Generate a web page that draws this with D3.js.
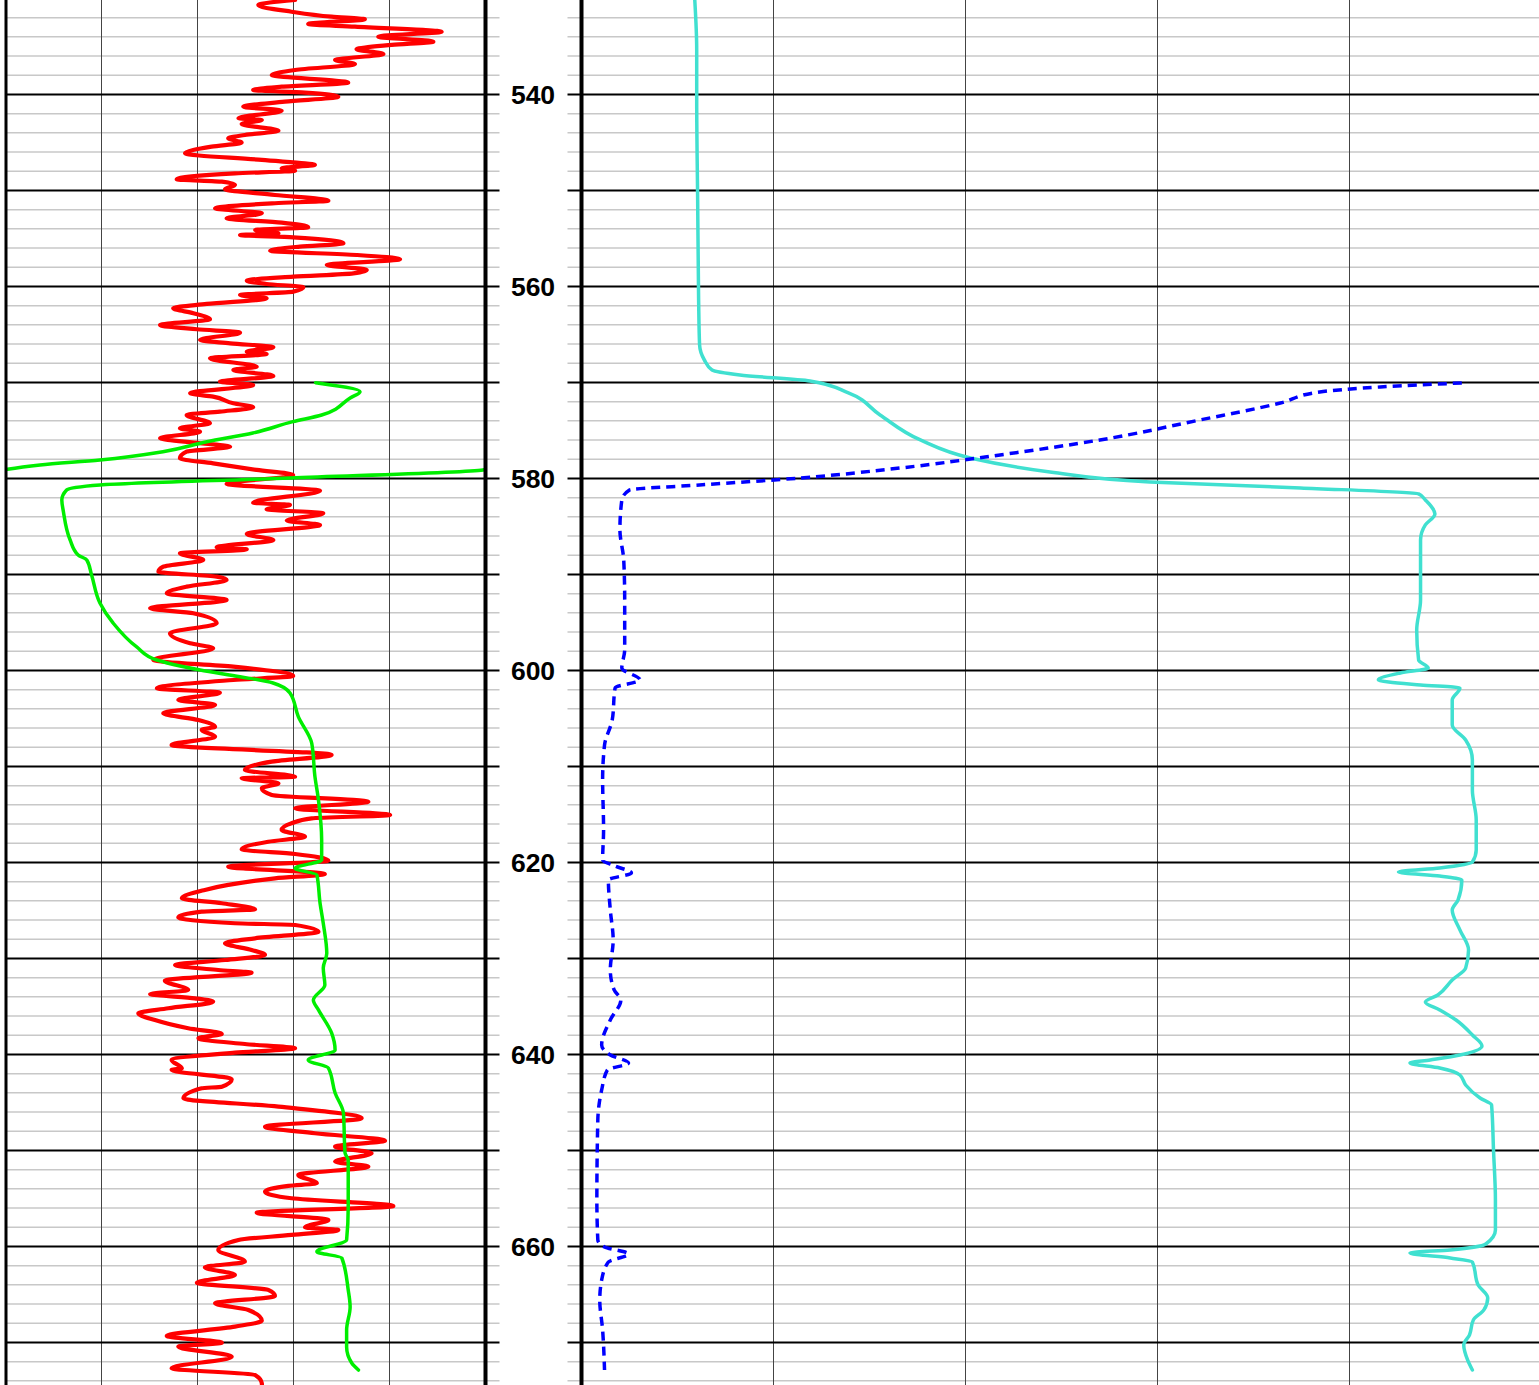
<!DOCTYPE html>
<html>
<head>
<meta charset="utf-8">
<script src="https://cdn.jsdelivr.net/npm/d3@7"></script>
<style>
  html, body { margin: 0; padding: 0; background: #fff; overflow: hidden; }
  svg { display: block; }
</style>
</head>
<body>
<div id="chart"></div>
<script>
// ---- depth window and tick spacing ----
const depthRange = [530.16, 674.43];
const minorStep = 2;
const majorStep = 10;
const labelStep = 20;

// ---- track scales (value domains) ----
const leftDomain = [0, 150];
const leftGrid = [30, 60, 90, 120];
const rightDomain = [0, 100];
const rightGrid = [20, 40, 60, 80];

// ---- curves: [depth, value] ----
const grCurve = [
  [530.16,90.5],[530.68,79.0],[531.38,89.4],[531.9,101.9],[532.17,112.3],[532.66,94.6],[532.94,109.2],
  [533.46,136.3],[533.98,116.5],[534.5,133.7],[534.84,120.7],[535.29,109.7],[535.78,118.1],[536.41,103.0],
  [536.82,109.2],[537.45,90.5],[537.97,83.2],[538.77,107.1],[539.19,86.3],[539.53,77.4],[539.81,93.6],
  [540.23,104.0],[540.75,87.3],[541.27,74.3],[541.69,86.3],[542.48,72.8],[542.66,80.1],[543.07,73.8],
  [543.77,85.3],[544.22,74.8],[544.56,69.6],[545.02,73.8],[545.44,64.4],[546.13,56.1],[546.82,80.1],
  [547.34,96.7],[547.69,86.3],[547.94,90.5],[548.21,71.7],[548.83,53.5],[549.08,67.6],[549.43,71.7],
  [549.87,68.6],[550.47,84.2],[551.06,100.9],[551.33,84.2],[551.85,65.5],[552.38,80.1],[552.9,69.1],
  [553.35,86.3],[553.83,94.6],[554.11,78.0],[554.46,85.3],[554.64,73.3],[554.88,89.9],[555.5,105.6],
  [555.85,92.0],[556.27,82.7],[556.72,109.7],[557.17,123.3],[557.76,100.4],[558.28,112.9],[558.63,108.7],
  [558.98,89.9],[559.4,75.4],[559.74,81.6],[560.08,93.1],[560.54,89.9],[560.89,73.3],[561.23,81.6],
  [561.82,62.9],[562.27,52.4],[562.79,58.7],[563.42,63.9],[564.01,48.3],[564.46,59.8],[564.81,73.3],
  [565.57,60.8],[565.92,70.2],[566.33,83.7],[566.79,75.4],[567.03,81.6],[567.48,63.9],[568.36,78.5],
  [568.7,71.2],[569.32,83.7],[569.92,67.0],[570.26,77.4],[571.12,57.7],[571.48,64.9],[572.17,71.2],
  [572.58,77.4],[573.04,67.0],[573.39,56.6],[574.25,63.9],[574.77,54.5],[575.13,60.8],[575.81,48.3],
  [576.33,60.8],[576.69,70.2],[577.21,56.6],[577.9,54.5],[578.42,64.9],[579.11,78.5],[579.64,89.9],
  [580.57,69.1],[581.27,98.3],[582.52,77.4],[582.76,88.9],[583.21,81.6],[583.62,99.3],[584.39,87.9],
  [584.84,98.3],[585.78,75.4],[586.41,83.7],[587.17,66.0],[587.38,75.4],[587.79,54.5],[588.49,61.8],
  [589.19,49.3],[589.71,47.8],[590.23,66.0],[590.57,69.1],[591.27,56.6],[591.96,50.4],[592.66,69.1],
  [593.52,45.2],[594.04,58.7],[595.08,66.0],[596.13,51.4],[597.17,57.7],[597.69,64.9],[598.91,46.2],
  [599.6,71.2],[600.57,89.9],[600.99,71.2],[601.86,47.3],[602.31,67.0],[603.07,54.0],[603.59,65.5],
  [604.46,49.3],[605.16,60.3],[605.86,65.5],[606.2,61.3],[606.9,65.5],[607.76,51.9],[608.8,101.9],
  [609.5,83.2],[610.36,74.8],[611.06,90.5],[611.23,73.8],[611.75,85.3],[612.27,80.1],[612.97,83.2],
  [613.67,113.4],[614.36,90.5],[615.05,120.2],[615.4,95.7],[615.92,89.4],[616.61,86.3],[617.31,93.6],
  [617.84,82.1],[618.63,73.8],[619.12,90.5],[619.81,100.9],[620.44,69.6],[621.2,99.8],[621.65,84.2],
  [622.34,69.6],[622.86,62.3],[623.73,55.1],[624.25,67.6],[624.88,78.0],[625.12,61.3],[625.71,54.0],
  [626.33,71.7],[626.51,90.5],[627.21,97.8],[627.9,78.0],[628.42,68.6],[629.11,76.9],[629.64,81.1],
  [630.16,68.6],[630.68,53.0],[631.2,66.5],[631.48,76.9],[632.31,49.8],[633.28,57.1],[633.7,45.2],
  [634.15,59.2],[634.5,64.9],[635.19,50.9],[635.71,41.5],[636.41,46.7],[637.27,57.1],[637.86,67.6],
  [638.31,60.3],[638.91,74.8],[639.36,90.5],[639.81,71.7],[640.57,51.9],[641.44,55.1],[641.61,51.9],
  [642.58,70.7],[643.36,67.6],[643.52,61.3],[644.56,55.6],[645.44,85.3],[646.65,111.3],[647.52,81.1],
  [648.21,96.7],[648.98,118.6],[649.6,103.0],[650.29,114.4],[651.16,103.0],[651.68,113.4],[652.55,91.5],
  [653.41,97.3],[653.69,88.4],[654.29,81.1],[654.98,89.4],[655.78,121.2],[656.48,78.5],[657.24,100.9],
  [658.0,93.6],[658.28,104.0],[658.8,89.4],[659.32,72.8],[660.36,66.5],[661.58,74.8],[662.17,62.3],
  [662.97,71.7],[663.77,59.8],[664.53,82.1],[665.16,84.2],[665.92,65.5],[666.61,75.9],[667.73,80.1],
  [668.35,71.7],[669.32,50.4],[670.02,67.6],[670.44,54.0],[671.48,70.7],[672.69,51.9],[673.39,78.0],
  [674.25,80.1],[674.9,80.2]
];

// values below the left edge wrap back in from the right edge
const spCurve = [
  [570.02,96.9],[570.96,110.8],[571.61,107.7],[573.39,98.8],[574.08,89.8],[575.26,77.3],[576.17,62.9],
  [577.21,49.2],[578.07,29.5],[578.59,10.8],[579.04,0.6],[579.12,-0.8],[579.95,-61.1],[580.68,-120.5],
  [581.2,-130.9],[582.24,-132.4],[583.46,-131.9],[586.41,-129.8],[587.97,-127.3],[588.49,-124.6],
  [590.05,-123.1],[592.97,-120.5],[595.05,-116.4],[597.55,-109.0],[598.91,-102.7],[599.95,-89.2],
  [600.65,-76.7],[601.3,-66.4],[602.34,-61.1],[604.81,-58.5],[607.58,-54.3],[611.06,-53.3],
  [613.49,-52.2],[617.66,-51.2],[619.74,-51.2],[620.6,-59.5],[621.3,-52.7],[624.25,-51.7],
  [626.33,-50.7],[629.46,-49.6],[630.99,-50.7],[632.76,-50.2],[634.32,-53.8],[635.36,-52.2],
  [637.76,-48.1],[639.53,-47.0],[640.57,-55.4],[641.41,-49.1],[644.01,-47.0],[646.09,-44.4],
  [650.26,-43.9],[650.99,-42.9],[655.89,-42.9],[659.32,-43.4],[660.54,-52.7],[661.2,-44.9],
  [664.53,-42.9],[666.3,-42.3],[668.7,-43.4],[670.47,-43.4],[672.14,-41.8],[672.87,-39.7]
];

const deepCurve = [
  [530.16,11.8],[535.36,12.0],[540.57,12.0],[550.99,12.1],[561.41,12.2],[566.09,12.3],[567.66,12.8],
  [568.7,13.6],[569.22,16.5],[569.84,23.8],[571.09,27.8],[573.39,31.1],[575.99,35.3],[577.86,40.5],
  [579.32,48.8],[580.36,59.2],[580.99,74.9],[581.61,87.2],[582.24,87.9],[583.7,88.9],[584.84,87.9],
  [586.41,87.4],[592.66,87.4],[595.78,87.0],[598.91,87.2],[599.74,88.2],[600.26,85.3],[600.99,83.0],
  [601.51,87.4],[601.82,91.5],[603.07,90.7],[605.68,90.7],[607.24,92.1],[609.32,92.8],[612.45,92.8],
  [615.57,93.2],[618.7,93.2],[619.95,92.8],[620.57,89.4],[620.99,85.1],[621.41,89.4],[621.82,91.7],
  [623.91,91.3],[624.95,90.7],[627.03,91.5],[629.11,92.4],[630.99,92.1],[632.24,90.7],[633.8,89.2],
  [634.53,87.9],[635.36,89.4],[636.41,91.1],[637.97,92.8],[639.11,93.8],[640.05,91.5],[640.57,88.4],
  [640.89,86.3],[641.41,89.4],[642.14,91.5],[643.18,92.1],[644.53,93.6],[645.26,94.8],[649.95,95.0],
  [655.16,95.2],[658.28,95.2],[659.74,94.2],[660.36,90.5],[660.68,86.3],[661.2,90.5],[661.62,92.8],
  [664.01,93.4],[665.36,94.4],[666.61,94.0],[667.66,92.9],[669.22,92.5],[670.26,91.9],[671.82,92.3],
  [672.87,92.8]
];

const shallowCurve = [
  [570.05,91.7],[570.47,83.2],[570.99,76.9],[572.14,72.8],[573.91,64.4],[575.99,54.0],[577.55,43.6],
  [578.91,33.2],[579.95,22.8],[580.68,12.3],[581.2,5.0],[582.24,4.2],[585.36,4.0],[588.49,4.4],
  [592.66,4.5],[597.86,4.5],[599.74,4.2],[600.99,6.1],[601.82,3.5],[605.16,3.2],[607.76,2.4],
  [611.4,2.2],[616.61,2.3],[619.74,2.2],[620.37,3.5],[621.09,5.2],[621.82,2.8],[624.95,3.0],
  [628.07,3.3],[631.2,3.0],[633.28,3.4],[634.32,4.1],[636.41,3.0],[639.01,2.1],[640.05,3.0],
  [640.89,4.9],[641.61,2.7],[643.7,2.1],[646.82,1.7],[655.16,1.6],[659.32,1.7],[660.05,2.4],
  [660.78,4.9],[661.62,2.8],[663.49,2.1],[665.57,1.9],[668.7,2.2],[672.87,2.4]
];

// ---- layout ----
const W = 1539, H = 1385;
const leftTrack = [5.5, 485.5];
const rightTrack = [581.5, 1541.5];
const stub = 14;

const svg = d3.select("#chart").append("svg")
  .attr("width", W).attr("height", H);

const y = d3.scaleLinear().domain(depthRange).range([0, H]);
const xL = d3.scaleLinear().domain(leftDomain).range(leftTrack);
const xR = d3.scaleLinear().domain(rightDomain).range(rightTrack);

const defs = svg.append("defs");
defs.append("clipPath").attr("id", "clipL").append("rect")
  .attr("x", leftTrack[0]).attr("y", 0).attr("width", leftTrack[1] - leftTrack[0]).attr("height", H);
defs.append("clipPath").attr("id", "clipR").append("rect")
  .attr("x", rightTrack[0]).attr("y", 0).attr("width", rightTrack[1] - rightTrack[0]).attr("height", H);

// ---- horizontal depth grid ----
const first = Math.ceil(depthRange[0] / minorStep) * minorStep;
const depths = d3.range(first, depthRange[1], minorStep);
const minor = depths.filter(d => d % majorStep !== 0);
const major = depths.filter(d => d % majorStep === 0);

const grid = svg.append("g");
function hLines(list, color, width) {
  [[leftTrack[0], leftTrack[1] + stub], [rightTrack[0] - stub, rightTrack[1]]].forEach(([a, b]) => {
    grid.append("g").selectAll("line").data(list).join("line")
      .attr("x1", a).attr("x2", b)
      .attr("y1", d => y(d)).attr("y2", d => y(d))
      .attr("stroke", color).attr("stroke-width", width);
  });
}
hLines(minor, "#c8c8c8", 1.5);

// ---- vertical grid ----
grid.append("g").selectAll("line").data(leftGrid).join("line")
  .attr("x1", d => xL(d)).attr("x2", d => xL(d)).attr("y1", 0).attr("y2", H)
  .attr("stroke", "#444").attr("stroke-width", 1);
grid.append("g").selectAll("line").data(rightGrid).join("line")
  .attr("x1", d => xR(d)).attr("x2", d => xR(d)).attr("y1", 0).attr("y2", H)
  .attr("stroke", "#444").attr("stroke-width", 1);

hLines(major, "#000", 2);

// ---- depth labels ----
svg.append("g").selectAll("text")
  .data(major.filter(d => d % labelStep === 0))
  .join("text")
  .attr("x", (leftTrack[1] + rightTrack[0]) / 2 - 0.5)
  .attr("y", d => y(d) + 9.6)
  .attr("text-anchor", "middle")
  .attr("font-family", "'Liberation Sans', Arial, sans-serif")
  .attr("font-weight", "bold")
  .attr("font-size", 26.5)
  .attr("fill", "#000")
  .text(d => d);

// ---- curves ----
const lineL = d3.line().x(p => xL(p[1])).y(p => y(p[0])).curve(d3.curveMonotoneY);
const lineR = d3.line().x(p => xR(p[1])).y(p => y(p[0])).curve(d3.curveMonotoneY);

// split a curve into pieces that wrap around the track scale
function wrapPieces(data, lo, hi) {
  const span = hi - lo;
  const band = v => Math.floor((v - lo) / span);
  const pieces = [];
  let cur = [];
  data.forEach((p, i) => {
    const k = band(p[1]);
    if (i > 0) {
      const q = data[i - 1];
      const kq = band(q[1]);
      if (k !== kq) {
        const B = lo + Math.max(k, kq) * span;
        const t = (B - q[1]) / (p[1] - q[1]);
        const dB = q[0] + t * (p[0] - q[0]);
        cur.push([dB, B - kq * span]);
        pieces.push(cur);
        cur = [[dB, B - k * span]];
      }
    }
    cur.push([p[0], p[1] - k * span]);
  });
  pieces.push(cur);
  return pieces;
}

const gL = svg.append("g").attr("clip-path", "url(#clipL)");
gL.append("path").datum(grCurve).attr("d", lineL)
  .attr("fill", "none").attr("stroke", "#ff0000").attr("stroke-width", 4.2)
  .attr("stroke-linejoin", "round").attr("stroke-linecap", "round");
gL.selectAll("path.sp").data(wrapPieces(spCurve, leftDomain[0], leftDomain[1])).join("path")
  .attr("class", "sp").attr("d", lineL)
  .attr("fill", "none").attr("stroke", "#00ee00").attr("stroke-width", 3.5)
  .attr("stroke-linejoin", "round").attr("stroke-linecap", "round");

const gR = svg.append("g").attr("clip-path", "url(#clipR)");
gR.append("path").datum(deepCurve).attr("d", lineR)
  .attr("fill", "none").attr("stroke", "#40e0d0").attr("stroke-width", 3.5)
  .attr("stroke-linejoin", "round").attr("stroke-linecap", "round");
gR.append("path").datum(shallowCurve).attr("d", lineR)
  .attr("fill", "none").attr("stroke", "#0000ff").attr("stroke-width", 3.5)
  .attr("stroke-dasharray", "9,6").attr("stroke-linejoin", "round");

// ---- track borders ----
const borders = svg.append("g");
[[leftTrack[0] + 0.5, 3], [leftTrack[1], 4], [rightTrack[0], 4]].forEach(([x, w]) => {
  borders.append("line").attr("x1", x).attr("x2", x).attr("y1", 0).attr("y2", H)
    .attr("stroke", "#000").attr("stroke-width", w);
});
</script>
</body>
</html>
